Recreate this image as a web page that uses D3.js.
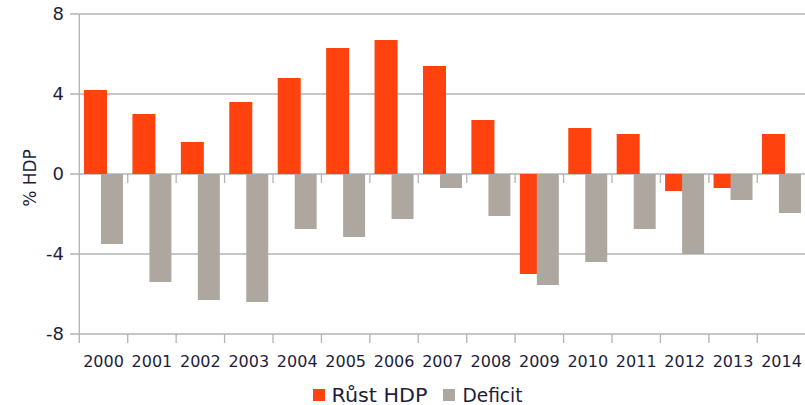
<!DOCTYPE html>
<html><head><meta charset="utf-8">
<script src="https://cdn.jsdelivr.net/npm/d3@7"></script>
<style>body{margin:0;background:#fff}svg{display:block}text{font-family:"DejaVu Sans",sans-serif;fill:#1e1e3c}</style>
</head><body>
<script>
const years = ["2000","2001","2002","2003","2004","2005","2006","2007","2008","2009","2010","2011","2012","2013","2014"];
const rust = [4.2,3.0,1.6,3.6,4.8,6.3,6.7,5.4,2.7,-5.0,2.3,2.0,-0.85,-0.7,2.0];
const deficit = [-3.5,-5.4,-6.3,-6.4,-2.75,-3.15,-2.25,-0.7,-2.1,-5.55,-4.4,-2.75,-4.0,-1.3,-1.95];
const yTicks = [-8,-4,0,4,8];
const seriesNames = ["Růst HDP","Deficit"];
const colors = ["#ff420e","#aea79f"];

const W=805,H=405;
const svg=d3.select("body").append("svg").attr("width",W).attr("height",H);
const x=d3.scaleBand().domain(years).range([79.3,805.7]).padding(0);
const y=d3.scaleLinear().domain([-8,8]).range([334,14]);
const bw=x.bandwidth();
const grid="#b3b3b3";

// gridlines
svg.append("g").selectAll("line").data(yTicks).join("line")
  .attr("x1",70).attr("x2",W).attr("y1",d=>y(d)).attr("y2",d=>y(d))
  .attr("stroke",grid).attr("stroke-width",1.3);
// y axis line
svg.append("line").attr("x1",79.3).attr("x2",79.3).attr("y1",y(8)).attr("y2",y(-8)).attr("stroke",grid).attr("stroke-width",1.3);
// y tick labels
svg.append("g").selectAll("text").data(yTicks).join("text")
  .attr("x",64).attr("y",d=>y(d)).attr("dy","0.36em").attr("text-anchor","end")
  .style("font-size","18px").text(d=>d);

// bars
const g=svg.append("g");
g.selectAll("rect.r").data(years).join("rect").attr("class","r")
  .attr("x",d=>x(d)+bw*0.097).attr("width",bw*0.475)
  .attr("y",(d,i)=>y(Math.max(0,rust[i]))).attr("height",(d,i)=>Math.abs(y(rust[i])-y(0)))
  .attr("fill",colors[0]);
g.selectAll("rect.d").data(years).join("rect").attr("class","d")
  .attr("x",d=>x(d)+bw*0.448).attr("width",bw*0.454)
  .attr("y",(d,i)=>y(Math.max(0,deficit[i]))).attr("height",(d,i)=>Math.abs(y(deficit[i])-y(0)))
  .attr("fill",colors[1]);

// category tick marks at zero line and bottom
const bounds=years.map(d=>x(d)+bw).slice(0,-1);
[0,-8].forEach(v=>{
  svg.append("g").selectAll("line").data(bounds).join("line")
   .attr("x1",d=>d).attr("x2",d=>d).attr("y1",y(v)).attr("y2",y(v)+9)
   .attr("stroke",grid).attr("stroke-width",1.3);
});
svg.append("line").attr("x1",79.3).attr("x2",79.3).attr("y1",y(-8)).attr("y2",y(-8)+9).attr("stroke",grid).attr("stroke-width",1.3);

// x labels
svg.append("g").selectAll("text").data(years).join("text")
  .attr("x",d=>x(d)+bw/2).attr("y",367).attr("text-anchor","middle")
  .style("font-size","16px").text(d=>d);

// y title
svg.append("text").attr("transform","translate(36,178) rotate(-90)").attr("text-anchor","middle")
  .style("font-size","17px").text("% HDP");

// legend
const leg=[{x:313,tx:331.5,len:96},{x:443,tx:462.5,len:60}];
leg.forEach((l,i)=>{
  svg.append("rect").attr("x",l.x).attr("y",389).attr("width",12).attr("height",12).attr("fill",colors[i]);
  svg.append("text").attr("x",l.tx).attr("y",402).style("font-size","19px")
    .attr("textLength",l.len).attr("lengthAdjust","spacingAndGlyphs").text(seriesNames[i]);
});
</script>
</body></html>
